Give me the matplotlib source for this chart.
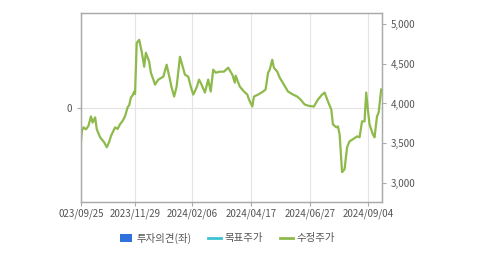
import pandas as pd
import numpy as np
import matplotlib
matplotlib.use('Agg')
import matplotlib.pyplot as plt
from matplotlib.lines import Line2D
from matplotlib.patches import Patch

plt.rcParams['font.family'] = ['Noto Sans CJK KR', 'DejaVu Sans']

# 수정주가 (days after 2023-09-25, price)
start = '2023-09-25'
days = [0, 1, 3, 6, 9, 12, 14, 17, 19, 23, 28, 31, 34, 36, 41, 44, 47, 50, 53, 56,
        58, 60, 62, 64, 65, 67, 70, 73, 76, 78, 82, 84, 87, 89, 93, 99, 103, 107, 109, 112,
        115, 119, 121, 125, 129, 132, 135, 139, 142, 145, 149, 153, 156, 159, 162, 167, 172, 177, 182, 185,
        186, 191, 196, 200, 202, 206, 208, 213, 219, 222, 225, 227, 230, 232, 236, 239, 244, 249, 255, 260,
        264, 269, 274, 280, 285, 290, 293, 297, 301, 303, 307, 309, 311, 314, 317, 320, 323, 327, 332, 335,
        338, 341, 343, 345, 347, 351, 353, 356, 358, 361]
price = [3525, 3650, 3700, 3675, 3720, 3838, 3760, 3825, 3675, 3575, 3510, 3450, 3520, 3590, 3700, 3680, 3740, 3780, 3840, 3950,
         3980, 4075, 4100, 4150, 4120, 4762, 4800, 4650, 4462, 4637, 4525, 4387, 4300, 4237, 4300, 4337, 4487, 4300, 4200, 4087,
         4212, 4587, 4512, 4362, 4337, 4212, 4112, 4200, 4300, 4237, 4137, 4300, 4150, 4425, 4387, 4400, 4400, 4450, 4362, 4262,
         4350, 4212, 4150, 4112, 4050, 3962, 4087, 4112, 4150, 4175, 4387, 4425, 4550, 4450, 4400, 4325, 4237, 4150, 4112, 4087,
         4050, 3987, 3970, 3962, 4050, 4112, 4137, 4025, 3925, 3737, 3700, 3712, 3612, 3137, 3175, 3450, 3525, 3550, 3587, 3575,
         3775, 3775, 4137, 3925, 3737, 3612, 3575, 3837, 3887, 4175]

tick_dates = ['2023-09-25', '2023-11-29', '2024-02-06', '2024-04-17', '2024-06-27', '2024-09-04']
tick_labels = ['023/09/25', '2023/11/29', '2024/02/06', '2024/04/17', '2024/06/27', '2024/09/04']
right_ticks = [3000, 3500, 4000, 4500, 5000]

dates = pd.Timestamp(start) + pd.to_timedelta(days, unit='D')

fig = plt.figure(figsize=(4.79, 2.54), dpi=100)
ax = fig.add_axes([81/479, 1 - 202/254, 301/479, 189/254])
ax2 = ax.twinx()

green = '#8dba4a'
grid = '#e4e4e4'
spine = '#aaaaaa'
txt = '#555555'

ax2.plot(dates, price, color=green, lw=1.6, solid_joinstyle='round')
ax2.set_ylim(2762, 5137)
ax2.set_yticks(right_ticks)
ax2.set_yticklabels([f'{v:,}' for v in right_ticks])

ax.set_ylim(-1, 1)
ax.set_yticks([0])
ax.set_yticklabels(['0'])
ax.set_xlim(pd.Timestamp(start), pd.Timestamp('2024-09-21'))
ax.set_xticks(pd.to_datetime(tick_dates))
ax.set_xticklabels(tick_labels)
ax.grid(True, color=grid, lw=0.8)
ax.set_axisbelow(True)

for a in (ax, ax2):
    for s in a.spines.values():
        s.set_color(spine)
        s.set_linewidth(0.9)
    a.tick_params(colors=spine, labelcolor=txt, labelsize=7, length=3, width=0.8)
ax.tick_params(axis='x', pad=2)

handles = [Patch(facecolor='#2f72de', edgecolor='none'),
           Line2D([], [], color='#3cc3d2', lw=2),
           Line2D([], [], color=green, lw=2)]
fig.legend(handles, ['투자의견(좌)', '목표주가', '수정주가'], loc='center',
           bbox_to_anchor=(0.475, 0.063), ncol=3, frameon=False, fontsize=7.5,
           handlelength=1.2, handleheight=0.8, columnspacing=1.6, handletextpad=0.4,
           labelcolor=txt)

fig.savefig('out.png', dpi=100)
